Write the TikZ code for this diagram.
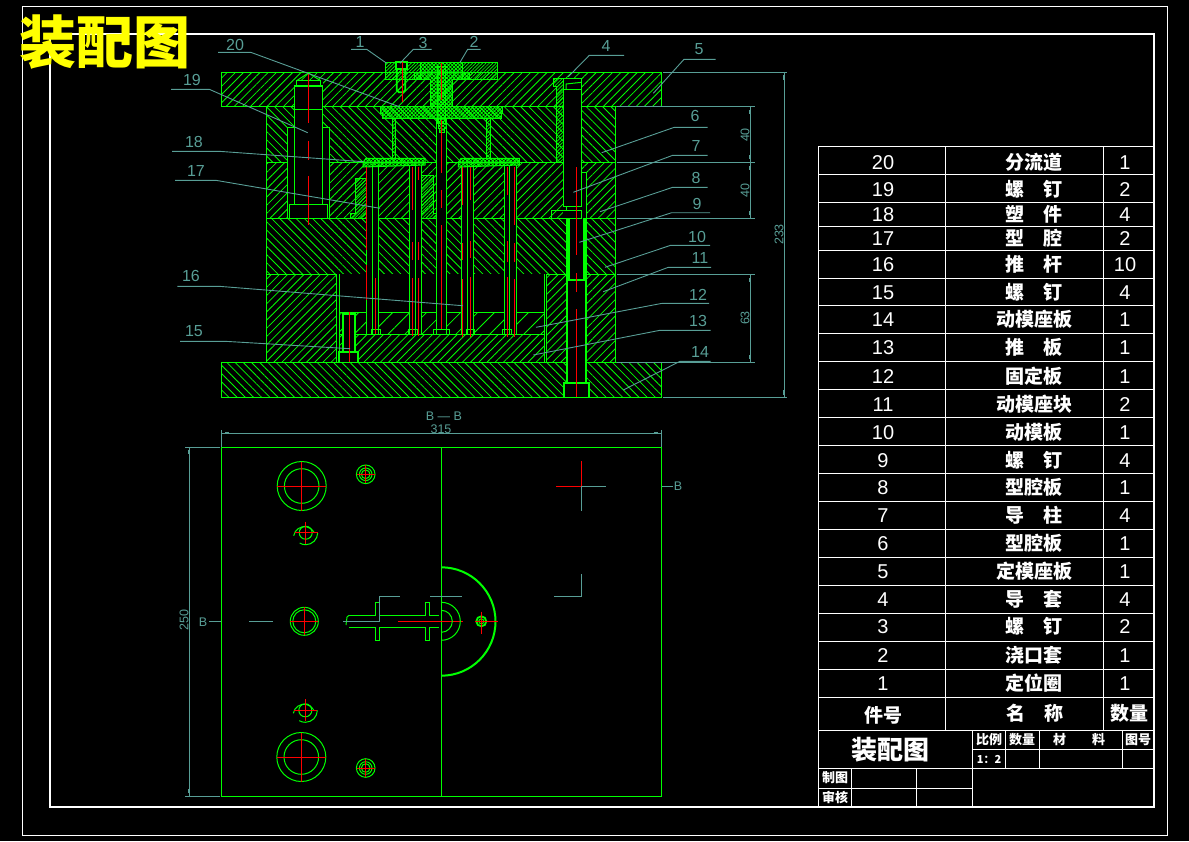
\documentclass[tikz,border=0pt]{standalone}
\usepackage{fontspec}
\setmainfont{Liberation Sans}
\newfontfamily\cjk{Noto Sans CJK SC}
\usetikzlibrary{patterns.meta}
\definecolor{cadgreen}{RGB}{0,255,0}
\definecolor{cadteal}{RGB}{88,158,150}
\definecolor{cadred}{RGB}{255,0,0}
\definecolor{cadyellow}{RGB}{255,255,0}
\tikzset{
  part/.style={draw=cadgreen,line width=1pt},
  thickpart/.style={draw=cadgreen,line width=1.8pt},
  hatchr/.style={pattern={Lines[angle=45,distance=5.8pt,line width=0.8pt]},pattern color=cadgreen},
  hatchl/.style={pattern={Lines[angle=-45,distance=5.8pt,line width=0.8pt]},pattern color=cadgreen},
  hatchw/.style={pattern={Lines[angle=45,distance=12pt,line width=0.8pt]},pattern color=cadgreen},
  hatchf/.style={pattern={Lines[angle=45,distance=2.4pt,line width=0.7pt]},pattern color=cadgreen},
  cross/.style={pattern={Hatch[angle=45,distance=2.6pt,line width=0.8pt]},pattern color=cadgreen},
  hole/.style={fill=black},
  axis/.style={draw=cadred,line width=1pt},
  leader/.style={draw=cadteal,line width=0.9pt},
  dimen/.style={draw=cadteal,line width=0.9pt},
  tick/.style={draw=cadteal,line width=2pt},
  frame/.style={draw=white,line width=0.9pt},
  dimlabel/.style={text=cadteal,font=\fontsize{12.5}{12.5}\selectfont,inner sep=0pt},
  partnum/.style={text=cadteal,font=\fontsize{16}{16}\selectfont,inner sep=0pt},
  rownum/.style={text=white,font=\fontsize{20}{20}\selectfont,inner sep=0pt},
  rowname/.style={text=white,font=\cjk\bfseries\fontsize{19}{19}\selectfont,inner sep=0pt},
  smallcn/.style={text=white,font=\cjk\bfseries\fontsize{13}{13}\selectfont,inner sep=0pt}
}
\newcommand\leaderline[5]{
\node[partnum] (lab#1) at (#2) {#1};
\coordinate (a#1) at (#3);
\coordinate (b#1) at (#4);
\coordinate (c#1) at (#5);
\path[leader] (a#1) -- (b#1) -- (c#1);
}
\begin{document}
\begin{tikzpicture}[x=1pt,y=-1pt]
\useasboundingbox (0,0) rectangle (1189,841);
\fill[black] (0,0) rectangle (1189,841);
% frames
\path[draw=white,line width=0.6pt] (22,6) rectangle (1167,835);
\path[draw=white,line width=1.3pt] (50,34) rectangle (1154,807);
% plates
\path[part,hatchr] (221,72.3) rectangle (661.7,106.7);
\path[part,hatchl] (266.3,106.7) rectangle (615.7,162.3);
\path[part,hatchr] (266.3,162.3) rectangle (615.7,218.3);
\path[part,hatchl] (266.3,218.3) rectangle (615.7,274.3);
\path[part,hatchr] (266.3,274.3) rectangle (336.7,362.3);
\path[part,hatchr] (546,274.3) rectangle (615.7,362.3);
\path[part,hatchl] (221,362.3) rectangle (661.7,397.3);
% ejector space
\fill[hole] (336.7,274.3) rectangle (546,362.3);
\path[part] (339,274.3) -- (339,362.3);
\path[part] (544.3,274.3) -- (544.3,362.3);
\path[part,hatchw] (339,312.3) rectangle (544.3,334.3);
\path[part,hatchr] (339,334.3) rectangle (544.3,362.3);
% bolt 15
\fill[hole] (342.7,314) rectangle (355.3,352.3);
\fill[hole] (339,352.3) rectangle (358.3,362.3);
\path[thickpart] (342.7,352.3) -- (342.7,314) -- (355.3,314) -- (355.3,352.3);
\path[thickpart] (339,362.3) -- (339,352.3) -- (358.3,352.3) -- (358.3,362.3);
% left guide pillar
\fill[hole] (294.3,80.7) rectangle (322.7,218.3);
\fill[hole] (287.3,127.3) rectangle (329.3,218.3);
\path[part] (294.3,86) rectangle (322.7,204);
\path[part] (296.7,80.7) rectangle (320.7,86);
\path[part] (296.7,80.7) -- (308.3,73) -- (320.7,80.7);
\path[thickpart] (294.3,86) -- (322.7,86);
\path[part] (294.3,109.3) -- (322.7,109.3);
\path[part] (287.3,218.3) -- (287.3,127.3) -- (294.3,127.3);
\path[part] (329.3,218.3) -- (329.3,127.3) -- (322.7,127.3);
\path[part] (289.3,218.3) rectangle (327.3,204);
% right guide pillar
\fill[hole] (563.3,78.3) rectangle (581.7,218.3);
\fill[hole] (581.7,172) rectangle (586,218.3);
\fill[hole] (569,218.3) rectangle (584,280);
\fill[hole] (567.3,280) rectangle (586,383);
\fill[hole] (564.3,383) rectangle (589.3,397.3);
\path[part,hatchf] (553.3,78.3) -- (563.3,78.3) -- (563.3,86.7) -- (563.3,162.3) -- (556,162.3) -- (556,86.7) -- (553.3,86.7) -- cycle;
\path[part] (563.3,78.3) rectangle (581.7,206.7);
\path[part] (563.3,89.3) -- (581.7,89.3);
\path[part] (566,89.3) -- (566,84) -- (581.7,82.3);
\path[part] (551.7,218.3) rectangle (581.7,210.3);
\path[part] (566,210.3) -- (566,206.7);
\path[part] (581.7,172) -- (586,172) -- (586,218.3);
\path[thickpart] (569,218.3) -- (569,280) -- (584,280) -- (584,218.3);
\path[thickpart] (567.3,218.3) -- (567.3,383);
\path[thickpart] (586,218.3) -- (586,383);
\path[thickpart] (564.3,397.3) -- (564.3,383) -- (589.3,383) -- (589.3,397.3);
% cavity inserts
\path[part,hatchf] (355,178) -- (366,178) -- (366,218.3) -- (350,218.3) -- (350,213) -- (355,213) -- cycle;
\path[part,hatchf] (421.3,175) -- (433,175) -- (433,213) -- (436,213) -- (436,218.3) -- (421.3,218.3) -- cycle;
% core tube and pins
\fill[hole] (436,119) rectangle (446.7,334.3);
\path[part] (436,119) -- (436,334.3);
\path[part] (446.7,119) -- (446.7,334.3);
\path[part] (433,334.3) rectangle (449,329.3);
\foreach \xa/\xb/\xc in {366/372/378.3,409/415/421.3,461/467.3/473.3,504.3/509.3/516.7}{
\fill[hole] (\xa,165) rectangle (\xc,334.3);
\path[part] (\xa,165) -- (\xa,334.3);
\path[part] (\xb,165) -- (\xb,334.3);
\path[part] (\xc,165) -- (\xc,334.3);
}
\foreach \xa/\xb in {371/380,408/417,466/474.7,502/511.7}{
\path[part] (\xa,334.3) rectangle (\xb,329.3);
}
% screw 3, locating ring, sprue bush
\path[part,hatchf] (385,62.3) rectangle (420,79);
\path[part,hatchf] (462.7,62.3) rectangle (497.7,79);
\path[part,cross] (420,62.3) -- (462.7,62.3) -- (462.7,72.3) -- (469.3,72.3) -- (469.3,79) -- (452.7,79) -- (452.7,106) -- (430,106) -- (430,79) -- (414.3,79) -- (414.3,72.3) -- (420,72.3) -- cycle;
\path[part,cross] (437.3,66) -- (445.3,66) -- (445.3,123) -- (437.3,123) -- cycle;
\fill[hole] (395.7,62.3) rectangle (406.7,69);
\path[thickpart] (395.7,62.3) rectangle (406.7,69);
\path[thickpart,hatchr] (396.7,69) -- (396.7,90) -- (399,92.3) -- (403,92.3) -- (405.3,90) -- (405.3,69);
% runner plate, posts, flanges
\path[part,cross] (380.7,106.7) -- (502.7,106.7) -- (502.7,113) -- (501,113) -- (501,118.3) -- (382,118.3) -- (382,113) -- (380.7,113) -- cycle;
\path[part,cross] (438,118.3) -- (446.7,118.3) -- (446.7,128) -- (444.5,128) -- (444.5,132) -- (439.7,132) -- (439.7,128) -- (438,128) -- cycle;
\path[part,hatchf] (392.7,118.3) rectangle (395.7,158.3);
\path[part,hatchf] (486.7,118.3) rectangle (490,158.3);
\path[part,cross] (363,162.3) -- (366,158.3) -- (425,158.3) -- (425,165) -- (363,167) -- cycle;
\path[part,cross] (458.3,162.3) -- (461,158.3) -- (519.3,158.3) -- (519.3,165) -- (458.3,167) -- cycle;
% axis lines
\foreach \xa/\ya/\yb in {308.3/73/123,308.3/141/160,308.3/176/225,
  402/62/101.7,441.6/63/100,441.6/120/173,441.6/190/208,441.6/225/329,
  576.3/167/255,576.3/273/292,576.3/309/397,349.3/311.7/362,
  366.7/167/250,366.7/265/300,375.3/278/334,
  412.3/167/210,412.3/242/260,412.3/278/336,418.3/167/180,418.3/242/260,418.3/278/336,
  462.3/167/205,462.3/243/260,462.3/279/337,470.3/167/200,470.3/241/258,470.3/277/337,
  507.7/167/195,507.7/241/262,507.7/277/337,514/167/225,514/243/262,514/279/337}{
\path[axis] (\xa,\ya) -- (\xa,\yb);
}
% section dimensions
\path[dimen] (663.3,72.3) -- (787.3,72.3);
\path[dimen] (663.3,397.3) -- (787.3,397.3);
\path[dimen] (784.3,72.3) -- (784.3,397.3);
\path[tick] (784.3,75) -- (784.3,80);
\path[tick] (784.3,390) -- (784.3,395);
\foreach \ya in {106.7,162.3,218.3,274.3,362.3}{
\path[dimen] (616.5,\ya) -- (755,\ya);
}
\path[dimen] (750.3,106.7) -- (750.3,218.3);
\path[dimen] (750.3,274.3) -- (750.3,362.3);
\foreach \ya/\yb in {110/114,155/159,166/170,211/215,278/282,355/359}{
\path[tick] (750.3,\ya) -- (750.3,\yb);
}
\node[dimlabel,rotate=90] (dima) at (745,135) {40};
\node[dimlabel,rotate=90] (dimb) at (745,190.5) {40};
\node[dimlabel,rotate=90] (dimc) at (745,318) {63};
\node[dimlabel,rotate=90] (dimd) at (779,234.5) {233};
% part leaders
\leaderline{20}{235,45}{218,52.3}{250.7,52.3}{400,107}
\leaderline{19}{192,80}{171,89.3}{209.3,89.3}{307.7,132.7}
\leaderline{18}{194,142}{172,151.3}{219,151.3}{363.3,161.7}
\leaderline{17}{196,171}{175,180.3}{215.7,180.3}{380,208.3}
\leaderline{16}{191,276}{177.3,286.3}{219,286.3}{462.7,305.7}
\leaderline{15}{194,331}{180,341.3}{225,341.3}{350,348.7}
\leaderline{1}{360,42}{351,49.3}{366.7,49.3}{386.7,63.3}
\leaderline{3}{423,43}{431.7,49.3}{413.3,49.3}{400,63.3}
\leaderline{2}{474,42}{480.7,49.3}{467.7,49.3}{460,62.3}
\leaderline{4}{606,46}{624,55.3}{589.3,55.3}{568.3,76.7}
\leaderline{5}{699,49}{715.7,59.3}{684,59.3}{653.3,93.3}
\leaderline{6}{695,116}{707.7,127.3}{674.3,127.3}{601.7,152.7}
\leaderline{7}{696,146}{707.7,155.3}{672.7,155.3}{573.3,192.3}
\leaderline{8}{696,178}{707.7,187.3}{672.7,187.3}{600,211.7}
\leaderline{9}{697,204}{710,212.7}{671.7,212.7}{579.3,242.3}
\leaderline{10}{697,237}{710,245.3}{670.7,245.3}{605,267.3}
\leaderline{11}{700,258}{711,267.3}{668.3,267.3}{603.3,291.7}
\leaderline{12}{698,295}{709,303.3}{662.3,303.3}{536,327.3}
\leaderline{13}{698,321}{710.7,330.3}{660,330.3}{533.3,355}
\leaderline{14}{700,352}{710.7,361.3}{680,361.3}{623.3,390}
% plan view
\path[part] (221,447.3) rectangle (661.7,796);
\path[part] (441.3,447.3) -- (441.3,796);
\path[dimen] (221,433.3) -- (661.7,433.3);
\path[dimen] (221,430) -- (221,447);
\path[dimen] (661.7,430) -- (661.7,447);
\path[tick] (225,433.3) -- (229,433.3);
\path[tick] (654,433.3) -- (658,433.3);
\path[dimen] (185,447.3) -- (220,447.3);
\path[dimen] (185,796) -- (220,796);
\path[dimen] (189.3,447.3) -- (189.3,796);
\path[tick] (189.3,450) -- (189.3,454);
\path[tick] (189.3,789) -- (189.3,793);
\node[dimlabel,rotate=90] (dimw) at (184,620) {250};
\node[dimlabel] (dimv) at (441,429) {315};
\node[dimlabel] (secname) at (444,416) {B — B};
\node[dimlabel] (secleft) at (203,622) {B};
\node[dimlabel] (secright) at (678,486.5) {B};
\path[dimen] (209,621.3) -- (221,621.3);
\path[dimen] (249,621.3) -- (272.7,621.3);
\path[dimen] (661.7,486.3) -- (673,486.3);
\path[dimen] (581.3,574) -- (581.3,596.3) -- (554,596.3);
\path[dimen] (581.3,486.3) -- (605.7,486.3);
\path[dimen] (581.3,486.3) -- (581.3,510.7);
\path[axis] (556,486.3) -- (581.3,486.3);
\path[axis] (581.3,461) -- (581.3,486.3);
% holes in plan
\foreach \cx/\cy in {301.7/486,301.3/757}{
\path[part] (\cx,\cy) circle (24.5);
\path[part] (\cx,\cy) circle (17.3);
\path[axis] (\cx-24.5,\cy) -- (\cx+24.5,\cy);
\path[axis] (\cx,\cy-24.5) -- (\cx,\cy+24.5);
}
\foreach \cx/\cy in {365.7/474.3,365.7/768}{
\path[part] (\cx,\cy) circle (9.3);
\path[part] (\cx,\cy) circle (6.3);
\path[part] (\cx,\cy) circle (4.3);
\path[axis] (\cx-9,\cy) -- (\cx+9,\cy);
\path[axis] (\cx,\cy-9) -- (\cx,\cy+9);
}
\foreach \cx/\cy in {305.7/532.7,305.3/710.3}{
\path[part] (\cx+12,\cy) arc (0:120:12);
\path[part] (\cx-12,\cy+3) arc (190:330:11);
\path[part] (\cx,\cy) circle (6.5);
\path[axis] (\cx-11,\cy) -- (\cx+12,\cy);
\path[axis] (\cx,\cy-11) -- (\cx,\cy+11);
}
\path[part] (304.3,621.3) circle (14);
\path[part] (304.3,621.3) circle (11.5);
\path[axis] (290.3,621.3) -- (318.3,621.3);
\path[axis] (304.3,607.3) -- (304.3,635.3);
% runner in plan
\path[part] (349,615.3) -- (375,615.3) -- (375,602.3) -- (379,602.3) -- (379,615.3) -- (425,615.3) -- (425,602.3) -- (429,602.3) -- (429,615.3) -- (439.3,615.3);
\path[part] (349,627.7) -- (375,627.7) -- (375,640.7) -- (379,640.7) -- (379,627.7) -- (425,627.7) -- (425,640.7) -- (429,640.7) -- (429,627.7) -- (439.3,627.7);
\path[part] (349,615.3) -- (347,617) -- (346,625);
\path[dimen] (343.3,621.3) -- (379.3,621.3) -- (379.3,596.3) -- (400,596.3);
\path[dimen] (430,596.3) -- (461.7,596.3);
\path[axis] (398,621.3) -- (462.7,621.3);
\path[part] (441.3,602.3) arc (-90:90:19);
\path[part] (441.3,610.3) arc (-90:90:11);
\path[draw=cadgreen,line width=2pt] (441.3,567.3) arc (-90:90:54.2);
\path[thickpart] (481.3,621.3) circle (5);
\path[part] (481.3,621.3) circle (2.5);
\path[axis] (475,621.3) -- (497.7,621.3);
\path[axis] (481.3,611.7) -- (481.3,634);
% parts list
\foreach \ya in {146.7,174.7,202.3,226.3,250.7,278.3,305.7,333.3,361.3,389.3,417.3,445.5,473.5,501.5,529.5,557.5,585.5,613.5,641.5,669.5,697.3,730}{
\path[frame] (818.3,\ya) -- (1153.7,\ya);
}
\path[frame] (818.3,146.7) -- (818.3,807);
\path[frame] (945.7,146.7) -- (945.7,730);
\path[frame] (1103.7,146.7) -- (1103.7,730);
\foreach \ya/\num/\name/\qty in {
  163/20/分流道/1,190/19/螺\quad 钉/2,215/18/塑\quad 件/4,239/17/型\quad 腔/2,
  265/16/推\quad 杆/10,293/15/螺\quad 钉/4,320/14/动模座板/1,348/13/推\quad 板/1,
  377/12/固定板/1,405/11/动模座块/2,433/10/动模板/1,461/9/螺\quad 钉/4,
  488/8/型腔板/1,516/7/导\quad 柱/4,544/6/型腔板/1,572/5/定模座板/1,
  600/4/导\quad 套/4,627/3/螺\quad 钉/2,656/2/浇口套/1,684/1/定位圈/1}{
\node[rownum] (num\num) at (883,\ya) {\num};
\node[rowname] (name\num) at (1034,\ya-1) {\name};
\node[rownum] (qty\num) at (1125,\ya) {\qty};
}
\node[rowname] (headnum) at (883,715) {件号};
\node[rowname] (headname) at (1035,713) {名\quad 称};
\node[rowname] (headqty) at (1129,713) {数量};
% title block
\path[frame] (818.3,768.3) -- (1153.7,768.3);
\path[frame] (818.3,788.3) -- (972.3,788.3);
\path[frame] (972.3,749.3) -- (1153.7,749.3);
\path[frame] (972.3,730) -- (972.3,807);
\path[frame] (1005.7,730) -- (1005.7,768.3);
\path[frame] (1039.3,730) -- (1039.3,768.3);
\path[frame] (1122.7,730) -- (1122.7,768.3);
\path[frame] (851.3,768.3) -- (851.3,807);
\path[frame] (916.7,768.3) -- (916.7,807);
\node[text=white,font=\cjk\bfseries\fontsize{26}{26}\selectfont,inner sep=0pt] (sheetname) at (890,749.5) {装配图};
\node[smallcn] (ratehead) at (989,740) {比例};
\node[smallcn] (counthead) at (1022,740) {数量};
\node[smallcn] (mathead) at (1079,740) {材\quad\quad 料};
\node[smallcn] (numhead) at (1138,740) {图号};
\node[text=white,font=\cjk\bfseries\fontsize{11}{11}\selectfont,inner sep=0pt] (rateval) at (989,759) {1：2};
\node[smallcn] (drawnby) at (835,778) {制图};
\node[smallcn] (checkedby) at (835,797.5) {审核};
% sheet title
\node[text=cadyellow,font=\cjk\bfseries\fontsize{57}{57}\selectfont,inner sep=0pt] (maintitle) at (105,42) {装配图};
\end{tikzpicture}
\end{document}
